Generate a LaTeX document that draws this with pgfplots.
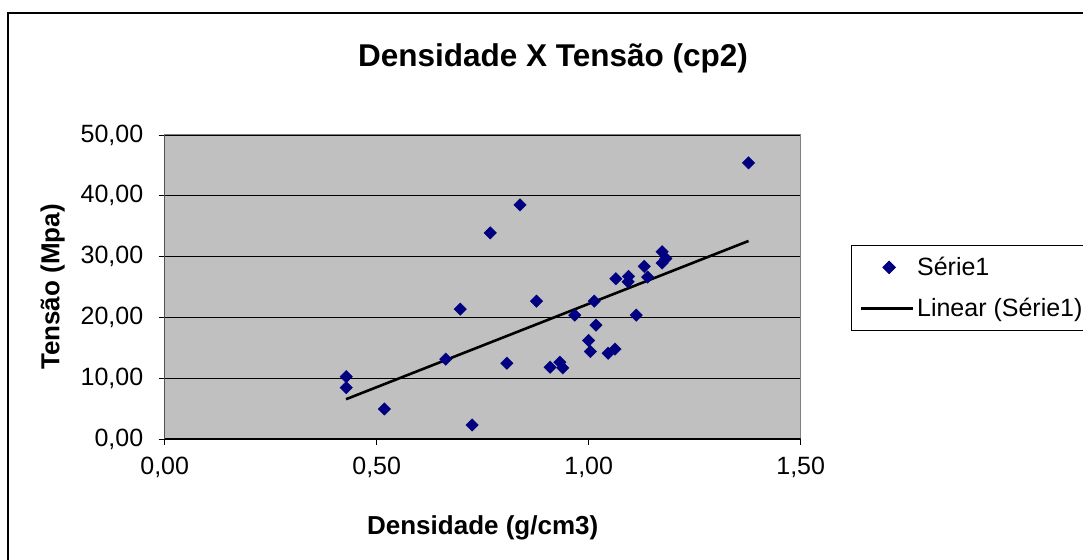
\documentclass[border=0pt]{standalone}
\usepackage{pgfplots}
\pgfplotsset{compat=1.18}
\usepackage{fontspec}
\setmainfont{Liberation Sans}
\definecolor{plotgray}{RGB}{192,192,192}
\definecolor{navyblue}{RGB}{0,0,128}
\definecolor{bordergray}{RGB}{128,128,128}
\pgfplotsset{
  scatterleg/.style={legend image code/.code={\path[draw=none] (0,0) -- (56bp,0); \draw[##1, draw=none] plot coordinates {(30bp,0)};}},
  lineleg/.style={legend image code/.code={\path[draw=none] (0,0) -- (56bp,0); \draw[##1] (2bp,0) -- (54bp,0);}},
}
\begin{document}
\begin{tikzpicture}[x=1bp,y=1bp]
\useasboundingbox (0,0) rectangle (1083,560);
\clip (0,0) rectangle (1083,560);
% outer chart frame
\draw[black, line width=1.5bp] (8,547) rectangle (1100,-20);
% title
\node[font=\fontsize{31.5bp}{36bp}\selectfont\bfseries] at (553,502) {Densidade X Tensão (cp2)};
\begin{axis}[
  at={(164.7bp,121bp)}, anchor=south west,
  scale only axis, width=636bp, height=304bp,
  xmin=0, xmax=1.5, ymin=0, ymax=50,
  xtick={0,0.5,1,1.5}, ytick={0,10,20,30,40,50},
  axis background/.style={fill=plotgray},
  axis line style={draw=bordergray, line width=1bp},
  ymajorgrids, major grid style={black, line width=0.9bp},
  tick align=outside, major tick length=6bp,
  tick style={black, line width=0.9bp},
  xtick pos=bottom, ytick pos=left,
  /pgf/number format/.cd, fixed, fixed zerofill, precision=2, use comma, assume math mode=true,
  /pgfplots/.cd,
  tick label style={font=\fontsize{25bp}{30bp}\selectfont},
  xticklabel style={yshift=-9bp},
  yticklabel style={xshift=-12bp},
  xlabel={Densidade (g/cm3)}, ylabel={Tensão (Mpa)},
  label style={font=\fontsize{26bp}{30bp}\selectfont\bfseries},
  xlabel style={yshift=-31bp},
  ylabel style={yshift=9bp},
  legend style={at={(1.0786,0.638)}, anchor=north west, draw=black, line width=0.9bp, fill=white,
    font=\fontsize{25bp}{30bp}\selectfont, inner xsep=8bp, inner ysep=10bp, row sep=17bp},
  legend cell align=left,
]
\addplot[only marks, mark=square*, mark size=4.4bp, mark options={rotate=45, fill=navyblue, draw=navyblue}, scatterleg]
coordinates {
(0.428,10.26) (0.428,8.45) (0.518,4.94) (0.663,13.13) (0.697,21.37)
(0.725,2.31) (0.768,33.9) (0.838,38.5) (0.807,12.47) (0.877,22.68)
(0.909,11.81) (0.932,12.63) (0.939,11.70) (0.967,20.38) (1.013,22.68)
(1.017,18.73) (1.000,16.2) (1.004,14.39) (1.046,14.1) (1.062,14.8)
(1.064,26.36) (1.094,26.74) (1.093,25.87) (1.112,20.38) (1.131,28.39)
(1.139,26.63) (1.173,30.8) (1.182,29.7) (1.173,28.94) (1.377,45.42)
};
\addlegendentry{Série1}
\addplot[black, line width=2.6bp, no marks, lineleg]
coordinates {(0.4276,6.54) (1.377,32.57)};
\addlegendentry{Linear (Série1)}
\draw[black, line width=1.2bp] (rel axis cs:0,0) -- (rel axis cs:0,1);
\draw[black, line width=1.2bp] (rel axis cs:0,0) -- (rel axis cs:1,0);
\end{axis}
\end{tikzpicture}
\end{document}
